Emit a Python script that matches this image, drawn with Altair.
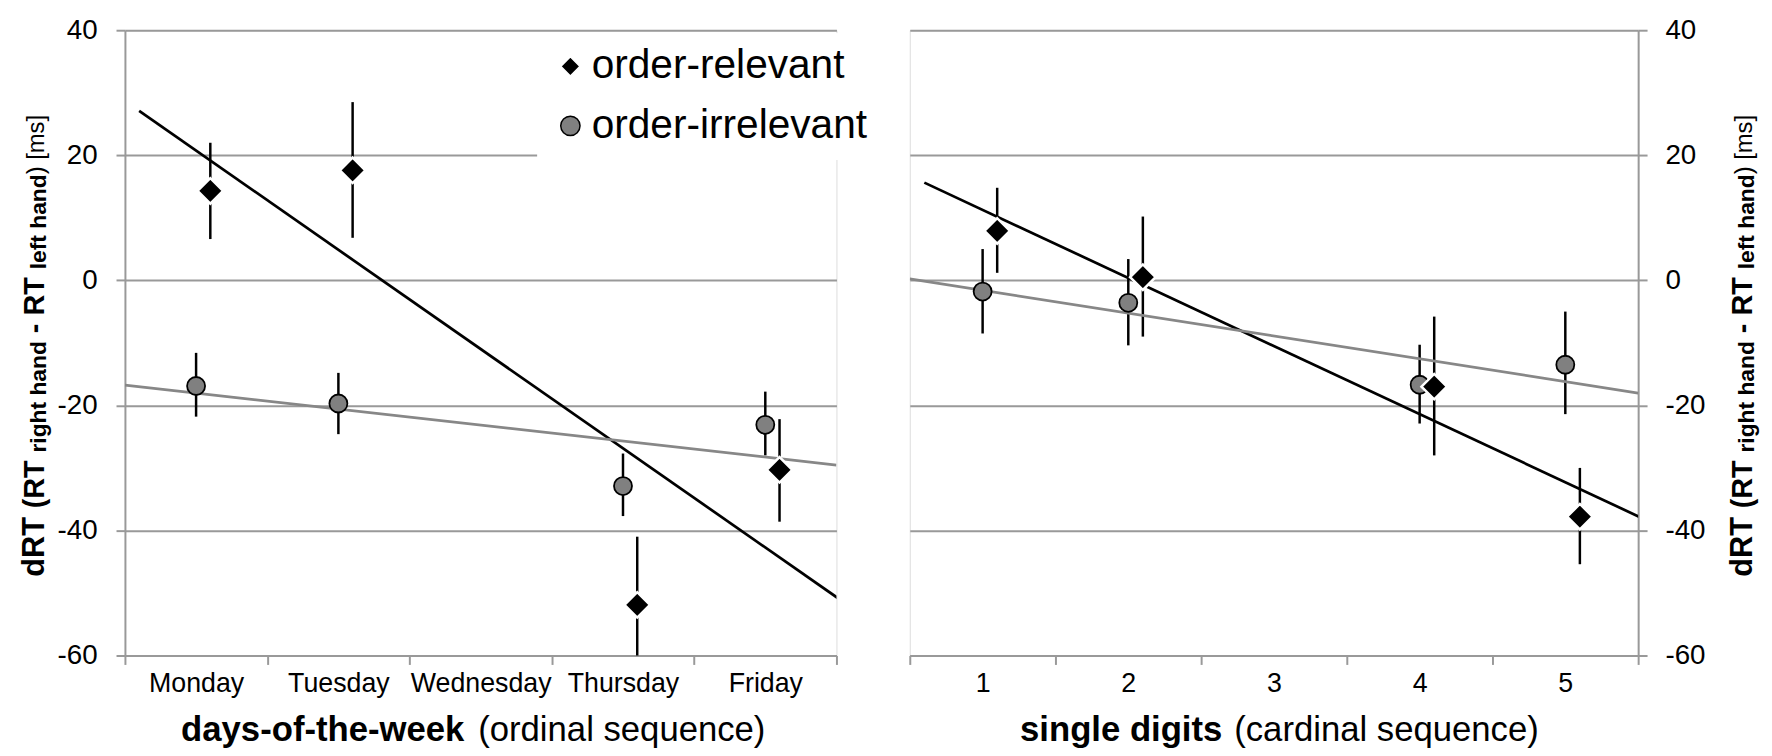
import json
import altair as alt
import pandas as pd

# ---------------- data ----------------
SERIES = ["order-relevant", "order-irrelevant"]
DAYS = ["Monday", "Tuesday", "Wednesday", "Thursday", "Friday"]
DIGITS = ["1", "2", "3", "4", "5"]

# days-of-the-week (positions 1..5, Wednesday has no data)
day_pos = [1, 2, 4, 5]
day_rel_mean = [14.3, 17.6, -51.9, -30.3]
day_rel_low = [6.6, 6.8, -60.0, -38.6]
day_rel_high = [22.0, 28.5, -41.0, -22.2]
day_irr_mean = [-16.9, -19.7, -32.9, -23.1]
day_irr_low = [-21.8, -24.6, -37.7, -28.0]
day_irr_high = [-11.6, -14.8, -27.7, -17.8]

# single digits (positions 1..5, digit 3 has no data)
dig_pos = [1, 2, 4, 5]
dig_rel_mean = [7.9, 0.5, -17.0, -37.8]
dig_rel_low = [1.2, -9.0, -28.0, -45.4]
dig_rel_high = [14.8, 10.2, -5.8, -30.0]
dig_irr_mean = [-1.8, -3.6, -16.7, -13.5]
dig_irr_low = [-8.5, -10.4, -22.9, -21.4]
dig_irr_high = [5.0, 3.4, -10.3, -5.0]

Y_TICKS = [-60, -40, -20, 0, 20, 40]
X_BOUNDS = [0.5, 1.5, 2.5, 3.5, 4.5, 5.5]
# y-axis title "dRT (RT right hand - RT left hand) [ms]" in its typographic pieces
Y_TITLE_PARTS = ["dRT", "(RT", "right hand", "- RT", "left hand", ") [ms]"]

# ---------------- styling ----------------
FONT = "Liberation Sans"
GRID = "#999999"
GRAY_LINE = "#878787"
GRAY_FILL = "#808080"
DODGE = 0.1
HEIGHT = 631
LEFT_W = 718
RIGHT_W = 735
XT_SIZE = 35
YT_SIZES = [31, 29, 23, 29, 23, 24]
YT_WEIGHTS = ["bold", "bold", "bold", "bold", "bold", "normal"]
YT_START = [551, 482, 425.7, 305.2, 240.7, 144.9]   # along-axis start of each piece
YT_SHIFT = [0, 0, 2, 0, 2, 0]                       # subscripts sit a little lower


def table(pos, mean, low, high, series):
    return pd.DataFrame({"pos": pos, "series": series, "mean": mean, "low": low, "high": high})


def panel(df_rel, df_irr, labels, bold_title, plain_title, bold_end, gap, yorient, width, legend):
    xs = alt.Scale(domain=[0.5, 5.5], nice=False, zero=False)
    ys = alt.Scale(domain=[-60, 40], nice=False, zero=False)
    label_expr = "datum.value < 5 ? " + json.dumps(labels) + "[floor(datum.value)] : ''"
    x_main = alt.Axis(
        orient="bottom", values=X_BOUNDS, labelExpr=label_expr, labelOffset=width / 10,
        labelFlush=False, labelOverlap=False, grid=False,
        labelFontSize=27, labelPadding=6, labelColor="black", labelFont=FONT,
        tickSize=9, tickColor=GRID, tickWidth=2, domainColor=GRID, domainWidth=2,
        title=bold_title, titleFont=FONT, titleFontSize=XT_SIZE, titleFontWeight="bold",
        titleColor="black", titleAlign="right", titleX=bold_end, titleY=86,
        titleBaseline="alphabetic",
    )
    x_sub = alt.Axis(
        orient="bottom", domain=False, ticks=False, labels=False, grid=False,
        title=plain_title, titleFont=FONT, titleFontSize=XT_SIZE, titleFontWeight="normal",
        titleColor="black", titleAlign="left", titleX=bold_end + gap, titleY=86,
        titleBaseline="alphabetic",
    )
    base_x = -81.7 if yorient == "left" else 114.0

    def y_axis(i):
        kw = dict(
            orient=yorient, title=Y_TITLE_PARTS[i], titleFont=FONT,
            titleFontSize=YT_SIZES[i], titleFontWeight=YT_WEIGHTS[i], titleColor="black",
            titleAngle=270, titleAlign="left", titleBaseline="alphabetic",
            titleX=base_x + YT_SHIFT[i], titleY=YT_START[i],
        )
        if i == 0:
            kw.update(
                values=Y_TICKS, grid=True, gridColor=GRID, gridWidth=2,
                domainColor=GRID, domainWidth=2, tickColor=GRID, tickWidth=2, tickSize=9,
                labelExpr="'' + datum.value", labelFontSize=28, labelColor="black",
                labelFont=FONT, labelPadding=19 if yorient == "left" else 18,
            )
        else:
            kw.update(domain=False, ticks=False, labels=False, grid=False)
        return alt.Axis(**kw)

    def dodge(chart):
        return chart.transform_calculate(
            xpos=f"datum.pos + (datum.series === '{SERIES[0]}' ? {DODGE} : 0)"
        )

    rel = dodge(alt.Chart(df_rel))
    irr = dodge(alt.Chart(df_irr))

    err_rel = rel.mark_rule(color="black", strokeWidth=2.5).encode(
        x=alt.X("xpos:Q", scale=xs, axis=x_main),
        y=alt.Y("low:Q", scale=ys, axis=y_axis(0)), y2="high:Q",
    )
    err_irr = irr.mark_rule(color="black", strokeWidth=2.5).encode(
        x=alt.X("xpos:Q", scale=xs, axis=x_sub),
        y=alt.Y("low:Q", scale=ys, axis=y_axis(1)), y2="high:Q",
    )
    fit_rel = (
        rel.transform_regression("xpos", "mean", extent=[0.5 + DODGE, 5.5 + DODGE])
        .mark_line(color="black", strokeWidth=2.75, clip=True)
        .encode(x=alt.X("xpos:Q", scale=xs, axis=None), y=alt.Y("mean:Q", scale=ys, axis=y_axis(2)))
    )
    fit_irr = (
        irr.transform_regression("xpos", "mean", extent=[0.5, 5.5])
        .mark_line(color=GRAY_LINE, strokeWidth=2.75, clip=True)
        .encode(x=alt.X("xpos:Q", scale=xs, axis=None), y=alt.Y("mean:Q", scale=ys, axis=y_axis(3)))
    )

    def points(src, i):
        return src.mark_point(filled=True, opacity=1, fillOpacity=1, strokeOpacity=1).encode(
            x=alt.X("xpos:Q", scale=xs, axis=None),
            y=alt.Y("mean:Q", scale=ys, axis=y_axis(i)),
            shape=alt.Shape("series:N", scale=alt.Scale(domain=SERIES, range=["diamond", "circle"]), legend=legend),
            fill=alt.Fill("series:N", scale=alt.Scale(domain=SERIES, range=["black", GRAY_FILL]), legend=legend),
            stroke=alt.Stroke("series:N", scale=alt.Scale(domain=SERIES, range=["white", "black"]), legend=legend),
            strokeWidth=alt.StrokeWidth("series:N", scale=alt.Scale(domain=SERIES, range=[2.5, 1.8]), legend=None),
            size=alt.Size("series:N", scale=alt.Scale(domain=SERIES, range=[660, 330]), legend=None),
        )

    pts_irr = points(irr, 4)
    pts_rel = points(rel, 5)
    return (
        alt.layer(err_rel, err_irr, fit_rel, fit_irr, pts_irr, pts_rel)
        .resolve_axis(x="independent", y="independent")
        .properties(width=width, height=HEIGHT)
    )


legend = alt.Legend(
    orient="none", legendX=416, legendY=3, title=None,
    labelFont=FONT, labelFontSize=41, labelColor="black", labelLimit=0,
    labelOffset=1, symbolSize=380, symbolStrokeWidth=1.5,
    fillColor="white", padding=13, rowPadding=18, strokeColor="white",
)

left = panel(
    table(day_pos, day_rel_mean, day_rel_low, day_rel_high, SERIES[0]),
    table(day_pos, day_irr_mean, day_irr_low, day_irr_high, SERIES[1]),
    DAYS, "days-of-the-week", "(ordinal sequence)", 342.0, 14.0, "left", LEFT_W, legend,
)
right = panel(
    table(dig_pos, dig_rel_mean, dig_rel_low, dig_rel_high, SERIES[0]),
    table(dig_pos, dig_irr_mean, dig_irr_low, dig_irr_high, SERIES[1]),
    DIGITS, "single digits", "(cardinal sequence)", 314.9, 12.0, "right", RIGHT_W, None,
)

chart = (
    alt.hconcat(left, right, spacing=74, bounds="flush")
    .resolve_legend(shape="independent", fill="independent", stroke="independent")
    .properties(padding={"left": 10, "top": 4, "right": 5, "bottom": 4}, background="white")
    .configure_view(stroke=None)
    .configure(font=FONT)
)

chart.save("out.html", embed_options={"renderer": "svg", "actions": False})
